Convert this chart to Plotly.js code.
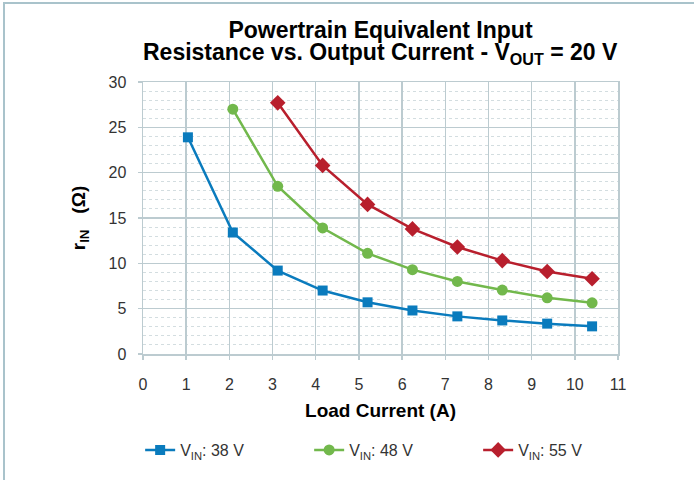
<!DOCTYPE html>
<html>
<head>
<meta charset="utf-8">
<script src="https://cdn.plot.ly/plotly-3.0.1.min.js"></script>
<style>
  html, body { margin: 0; padding: 0; background: #fff; }
  #frame { position: absolute; left: 3px; top: 2px; width: 691px; height: 478px;
           border-top: 2px solid #a9c3cb; border-left: 2px solid #a9c3cb; box-sizing: border-box; pointer-events: none; }
  #chart { width: 694px; height: 480px; }
</style>
</head>
<body>
<div id="chart"></div>
<div id="frame"></div>
<script>
const seriesNames = ['V<sub>IN</sub>: 38 V', 'V<sub>IN</sub>: 48 V', 'V<sub>IN</sub>: 55 V'];
const x38 = [1.04, 2.08, 3.12, 4.16, 5.2, 6.24, 7.28, 8.32, 9.36, 10.4];
const r38 = [23.9, 13.4, 9.2, 7.0, 5.7, 4.8, 4.15, 3.7, 3.35, 3.05];
const x48 = [2.08, 3.12, 4.16, 5.2, 6.24, 7.28, 8.32, 9.36, 10.4];
const r48 = [27.0, 18.5, 13.9, 11.1, 9.3, 8.0, 7.05, 6.2, 5.65];
const x55 = [3.12, 4.16, 5.2, 6.24, 7.28, 8.32, 9.36, 10.4];
const r55 = [27.7, 20.8, 16.5, 13.8, 11.8, 10.3, 9.1, 8.3];
const xTicks = [0, 1, 2, 3, 4, 5, 6, 7, 8, 9, 10, 11];
const yTicks = [0, 5, 10, 15, 20, 25, 30];

const font = 'Liberation Sans, Arial, Helvetica, sans-serif';
const gridCol = '#bccbd0';

const traces = [
  {x: x38, y: r38, name: seriesNames[0], mode: 'lines+markers',
   line: {color: '#0a7bbd', width: 2.5}, marker: {symbol: 'square', size: 10, color: '#0a7bbd'}},
  {x: x48, y: r48, name: seriesNames[1], mode: 'lines+markers',
   line: {color: '#72b84c', width: 2.5}, marker: {symbol: 'circle', size: 11, color: '#72b84c'}},
  {x: x55, y: r55, name: seriesNames[2], mode: 'lines+markers',
   line: {color: '#b81f2d', width: 2.5}, marker: {symbol: 'diamond', size: 12, color: '#b81f2d'}}
];

const layout = {
  width: 694, height: 480,
  margin: {l: 143, r: 76, t: 82, b: 126, autoexpand: false},
  paper_bgcolor: '#ffffff', plot_bgcolor: '#ffffff',
  font: {family: font, color: '#333333', size: 16},
  title: {text: '<b>Powertrain Equivalent Input</b>', x: 0.5, xref: 'paper',
          y: 1 - 38 / 480, yref: 'container', yanchor: 'bottom',
          font: {family: font, size: 23, color: '#000000'}},
  annotations: [{
    text: '<b>Resistance vs. Output Current - V<sub>OUT</sub> = 20 V</b>',
    xref: 'paper', x: 0.5, xanchor: 'center',
    yref: 'paper', y: 1, yanchor: 'bottom', yshift: 12,
    showarrow: false, font: {family: font, size: 23, color: '#000000'}
  }],
  xaxis: {
    range: [0, 11], tickvals: xTicks, ticktext: xTicks.map(String), automargin: false,
    showgrid: true, gridcolor: gridCol, gridwidth: 1.5,
    showline: true, linecolor: gridCol, linewidth: 1.5, mirror: true,
    ticks: 'outside', ticklen: 4, tickcolor: gridCol, tickwidth: 1.5,
    ticklabelstandoff: 11, zeroline: false,
    tickfont: {family: font, size: 16, color: '#333333'},
    title: {text: '<b>Load Current (A)</b>', standoff: 12, font: {family: font, size: 19, color: '#000000'}}
  },
  yaxis: {
    range: [0, 30], tickvals: yTicks, ticktext: yTicks.map(String), automargin: false,
    showgrid: true, gridcolor: gridCol, gridwidth: 1.5,
    showline: true, linecolor: gridCol, linewidth: 1.5, mirror: true,
    ticks: 'outside', ticklen: 4, tickcolor: gridCol, tickwidth: 1.5,
    ticklabelstandoff: 8, zeroline: false,
    minor: {dtick: 1, showgrid: true, gridcolor: '#d3dde0', griddash: 'dot', gridwidth: 1, ticks: ''},
    tickfont: {family: font, size: 16, color: '#333333'},
    title: {text: '<b>r<sub>IN</sub>   (Ω)</b>', standoff: 18, font: {family: font, size: 19, color: '#000000'}}
  },
  showlegend: true,
  legend: {orientation: 'h', x: -0.006, xanchor: 'left', xref: 'paper', y: -0.353, yref: 'paper', yanchor: 'middle',
           entrywidth: 124, entrywidthmode: 'pixels', itemgap: 0,
           font: {family: font, size: 16, color: '#333333'}}
};

Plotly.newPlot('chart', traces, layout, {displayModeBar: false, staticPlot: true});
</script>
</body>
</html>
